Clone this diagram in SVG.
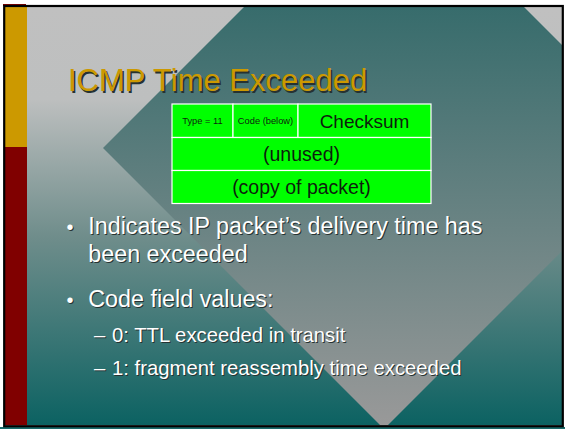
<svg xmlns="http://www.w3.org/2000/svg" width="565" height="429" viewBox="0 0 565 429">
  <style>
    .title { font-family: "Liberation Sans", Arial, sans-serif; font-size: 31px; fill: #cc9900; }
    .body { font-family: "Liberation Sans", Arial, sans-serif; fill: #ffffff; }
    .title.shadow, .body.shadow { fill: #263232; }
    .l1 { font-size: 23.3px; }
    .l2 { font-size: 20.3px; }
    .dot { font-size: 20px; }
    .cell { fill: #00ff00; stroke: #ffffff; stroke-width: 1.2; }
    .ctext { font-family: "Liberation Sans", Arial, sans-serif; fill: #0d1f0d; text-anchor: middle; }
  </style>
  <defs>
    <linearGradient id="bg" gradientUnits="userSpaceOnUse" x1="0" y1="7" x2="0" y2="425">
      <stop offset="0" stop-color="#c0c0c0"/>
      <stop offset="0.22" stop-color="#bdbfbf"/>
      <stop offset="0.55" stop-color="#6f8d8b"/>
      <stop offset="1" stop-color="#0c6262"/>
    </linearGradient>
    <linearGradient id="diamond" gradientUnits="userSpaceOnUse" x1="0" y1="7" x2="0" y2="425">
      <stop offset="0" stop-color="#376c6c"/>
      <stop offset="1" stop-color="#999999"/>
    </linearGradient>
    <clipPath id="slide">
      <rect x="5" y="7" width="557" height="418"/>
    </clipPath>
  </defs>

  <!-- page -->
  <rect width="565" height="429" fill="#ffffff"/>
  <rect x="0" y="427" width="565" height="2" fill="#1a6a6a"/>
  <rect x="3" y="4" width="23" height="2" fill="#7a0000"/>

  <!-- slide background -->
  <g clip-path="url(#slide)">
    <rect x="5" y="7" width="557" height="418" fill="url(#bg)"/>
    <polygon points="384,-133 665,148 384,429 103,148" fill="url(#diamond)"/>
    <rect x="5" y="7" width="22" height="140" fill="#cc9900"/>
    <rect x="5" y="147" width="22" height="278" fill="#800000"/>
  </g>
  <rect x="4.2" y="6" width="558.6" height="420.2" fill="none" stroke="#000000" stroke-width="2.2"/>

  <!-- title -->
  <g id="title">
    <text class="title shadow" x="69.5" y="92.5">ICMP Time Exceeded</text>
    <text class="title" x="68" y="91">ICMP Time Exceeded</text>
  </g>

  <!-- ICMP header table -->
  <g id="header-table">
    <rect class="cell" x="172" y="104" width="61" height="33.5"/>
    <rect class="cell" x="233" y="104" width="65" height="33.5"/>
    <rect class="cell" x="298" y="104" width="133" height="33.5"/>
    <rect class="cell" x="172" y="137.5" width="259" height="33"/>
    <rect class="cell" x="172" y="170.5" width="259" height="33"/>
    <text class="ctext" x="202.5" y="124" font-size="9.3">Type = 11</text>
    <text class="ctext" x="265.5" y="124" font-size="9.3">Code (below)</text>
    <text class="ctext" x="364.5" y="128" font-size="19">Checksum</text>
    <text class="ctext" x="301.5" y="161" font-size="19.5">(unused)</text>
    <text class="ctext" x="301.5" y="194" font-size="19.5">(copy of packet)</text>
  </g>

  <!-- bullet text (shadow then face) -->
  <g id="bullets">
    <g class="body shadow">
      <text class="dot" x="67.5" y="235">•</text>
      <text class="l1" x="89.3" y="235">Indicates IP packet’s delivery time has</text>
      <text class="l1" x="89.3" y="263">been exceeded</text>
      <text class="dot" x="67.5" y="308">•</text>
      <text class="l1" x="89.3" y="308">Code field values:</text>
      <text class="l2" x="95" y="343">–</text>
      <text class="l2" x="113" y="343">0: TTL exceeded in transit</text>
      <text class="l2" x="95" y="376">–</text>
      <text class="l2" x="113" y="376">1: fragment reassembly time exceeded</text>
    </g>
    <g class="body">
      <text class="dot" x="66.5" y="234">•</text>
      <text class="l1" x="88.3" y="234">Indicates IP packet’s delivery time has</text>
      <text class="l1" x="88.3" y="262">been exceeded</text>
      <text class="dot" x="66.5" y="307">•</text>
      <text class="l1" x="88.3" y="307">Code field values:</text>
      <text class="l2" x="94" y="342">–</text>
      <text class="l2" x="112" y="342">0: TTL exceeded in transit</text>
      <text class="l2" x="94" y="375">–</text>
      <text class="l2" x="112" y="375">1: fragment reassembly time exceeded</text>
    </g>
  </g>
</svg>
